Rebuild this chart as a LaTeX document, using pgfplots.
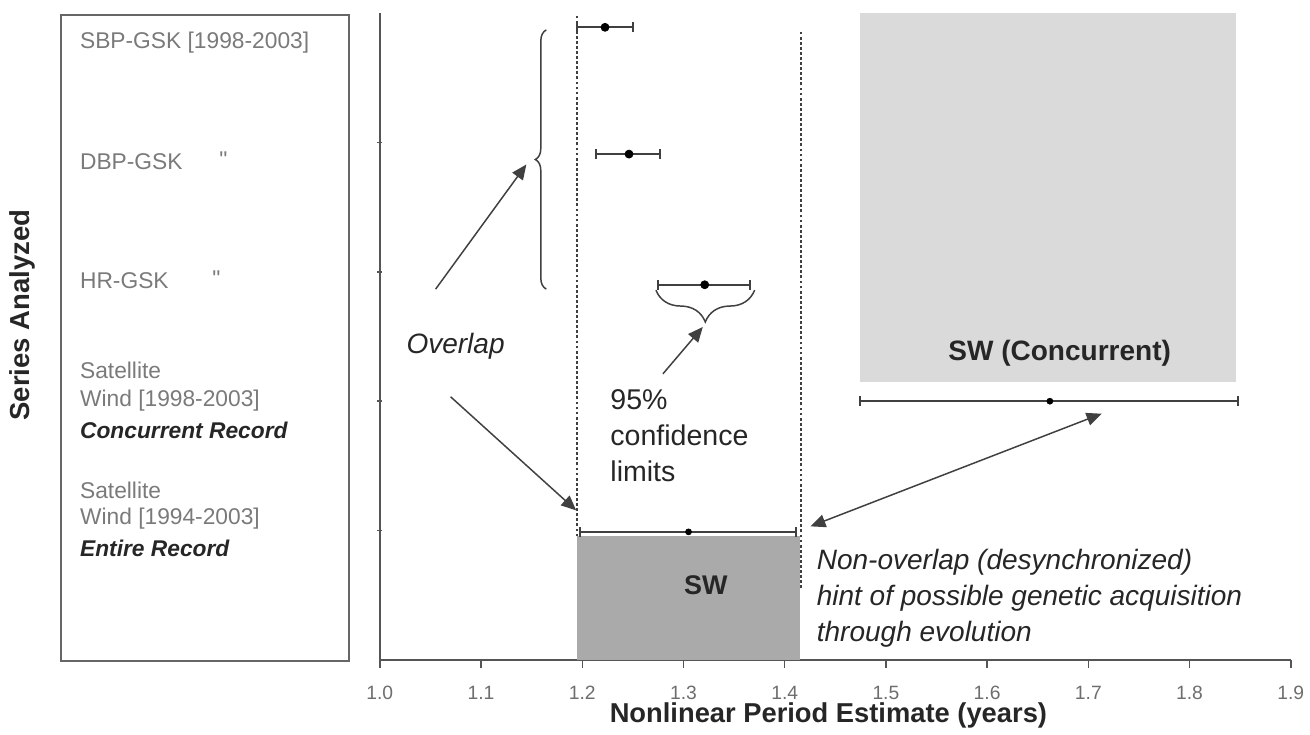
\documentclass[border=0pt]{standalone}
\usepackage{pgfplots}
\pgfplotsset{compat=1.18}
\usepackage{fontspec}
\setmainfont{Liberation Sans}
\newfontfamily\rawfont{Liberation Sans}[Ligatures=TeXOff]
\usetikzlibrary{arrows.meta,decorations.pathreplacing}

\definecolor{tickgray}{HTML}{6E6E6E}
\definecolor{labelgray}{HTML}{7A7A7A}
\definecolor{darktext}{HTML}{262626}
\definecolor{axisgray}{HTML}{555555}
\definecolor{linegray}{HTML}{404040}
\definecolor{boxgray}{HTML}{666666}
\definecolor{lightfill}{HTML}{DADADA}
\definecolor{darkfill}{HTML}{AAAAAA}

\begin{document}
\begin{tikzpicture}[px/.style={x=0.02cm,y=-0.02cm,shift={(-381,-662)}}]
% frame of the whole picture, in pixel units of the reference
\begin{scope}[px]
\path[use as bounding box] (0,0) rectangle (1310,736);
\end{scope}

\begin{axis}[
    at={(0,0)}, anchor=south west,
    scale only axis,
    width=18.28cm, height=12.98cm,
    xmin=1.0, xmax=1.9,
    ymin=0, ymax=5,
    axis x line=bottom, axis y line=left,
    axis line style={-, draw=axisgray, line width=0.85pt},
    xtick={1.0,1.1,1.2,1.3,1.4,1.5,1.6,1.7,1.8,1.9},
    xticklabels={1.0,1.1,1.2,1.3,1.4,1.5,1.6,1.7,1.8,1.9},
    xticklabel style={font=\fontsize{11}{12}\selectfont, text=tickgray, yshift=-0.24cm},
    tick align=outside,
    major tick length=0.16cm,
    tick style={draw=axisgray, line width=0.85pt},
    ytick=\empty,
    extra y ticks={1,2,3,4},
    extra y tick labels={},
    extra y tick style={major tick length=0.1cm, tick align=center},
    clip=false,
]
% shaded ranges (SW concurrent, SW entire)
\addplot[fill=lightfill, draw=none] coordinates {(1.474,2.15) (1.846,2.15) (1.846,5) (1.474,5)} -- cycle;
\addplot[fill=darkfill, draw=none] coordinates {(1.195,0) (1.415,0) (1.415,0.955) (1.195,0.955)} -- cycle;

% confidence limits of SW entire record
\addplot[draw=linegray, line width=1pt, dash pattern=on 1.6pt off 1.3pt] coordinates {(1.195,0.955) (1.195,4.98)};
\addplot[draw=linegray, line width=1pt, dash pattern=on 1.6pt off 1.3pt] coordinates {(1.416,0.555) (1.416,4.85)};

% GSK series
\addplot[only marks, mark=*, mark size=2.3pt, black,
    error bars/.cd, x dir=both, x explicit, error mark=|,
    error bar style={line width=1.1pt, draw=linegray},
    error mark options={line width=1.1pt, draw=linegray, mark size=2.8pt}]
coordinates {
    (1.2225,4.89) += (0.0275,0) -= (0.0275,0)
    (1.2462,3.91) += (0.0305,0) -= (0.0325,0)
    (1.321,2.90)  += (0.045,0)  -= (0.0463,0)
};

% satellite wind series
\addplot[only marks, mark=*, mark size=1.7pt, black,
    error bars/.cd, x dir=both, x explicit, error mark=|,
    error bar style={line width=1.1pt, draw=linegray},
    error mark options={line width=1.1pt, draw=linegray, mark size=2.8pt}]
coordinates {
    (1.662,2.00) += (0.186,0) -= (0.188,0)
    (1.305,0.99) += (0.106,0) -= (0.107,0)
};
\end{axis}

\begin{scope}[px]
% left label box
\draw[boxgray, line width=0.85pt] (61,15) rectangle (350,663);
\begin{scope}[font=\fontsize{13}{15}\selectfont, inner sep=0]
\node[anchor=west, labelgray] at (80,43) {SBP-GSK [1998-2003]};
\node[anchor=west, labelgray] at (80,162) {DBP-GSK};
\node[labelgray] at (224,160) {\rawfont "};
\node[anchor=west, labelgray] at (80,282) {HR-GSK};
\node[labelgray] at (217,280) {\rawfont "};
\node[anchor=west, labelgray] at (80,372) {Satellite};
\node[anchor=west, labelgray] at (80,402) {Wind [1998-2003]};
\node[anchor=west, darktext, font=\fontsize{13}{15}\selectfont\bfseries\itshape] at (80,432) {Concurrent Record};
\node[anchor=west, labelgray] at (80,492) {Satellite};
\node[anchor=west, labelgray] at (80,520) {Wind [1994-2003]};
\node[anchor=west, darktext, font=\fontsize{13}{15}\selectfont\bfseries\itshape] at (80,550) {Entire Record};
\end{scope}

% axis titles
\node[rotate=90, darktext, font=\fontsize{15.7}{18}\selectfont\bfseries] at (22,316) {Series Analyzed};
\node[darktext, font=\fontsize{15.6}{18}\selectfont\bfseries] at (831,718) {Nonlinear Period Estimate (years)};

% braces
\draw[linegray, line width=0.85pt, decorate, decoration={brace, amplitude=0.22cm}] (548,290) -- (548,30);
\draw[linegray, line width=0.85pt, decorate, decoration={brace, amplitude=0.64cm}] (757,291) -- (658,291);

% arrows
\begin{scope}[linegray, line width=0.85pt]
\draw[-{Triangle[length=0.3cm, width=0.26cm]}] (437,290) -- (528,165);
\draw[-{Triangle[length=0.3cm, width=0.26cm]}] (452,398) -- (578,512);
\draw[-{Triangle[length=0.3cm, width=0.26cm]}] (665,375) -- (705,328);
\draw[{Triangle[length=0.3cm, width=0.26cm]}-{Triangle[length=0.3cm, width=0.26cm]}] (813,528) -- (1105,415);
\end{scope}

% annotations
\node[darktext, font=\fontsize{16}{18}\selectfont\itshape] at (457,347) {Overlap};
\node[anchor=west, align=left, inner sep=0, darktext, font=\fontsize{16.3}{20.8}\selectfont] at (612,437) {95\%\\confidence\\limits};
\node[anchor=west, align=left, inner sep=0, darktext, font=\fontsize{16}{20.5}\selectfont\itshape] at (819,600) {Non-overlap (desynchronized)\\hint of possible genetic acquisition\\through evolution};
\node[darktext, font=\fontsize{16}{18}\selectfont\bfseries] at (1063,354) {SW (Concurrent)};
\node[darktext, font=\fontsize{15.4}{18}\selectfont\bfseries] at (708,587) {SW};
\end{scope}
\end{tikzpicture}
\end{document}
